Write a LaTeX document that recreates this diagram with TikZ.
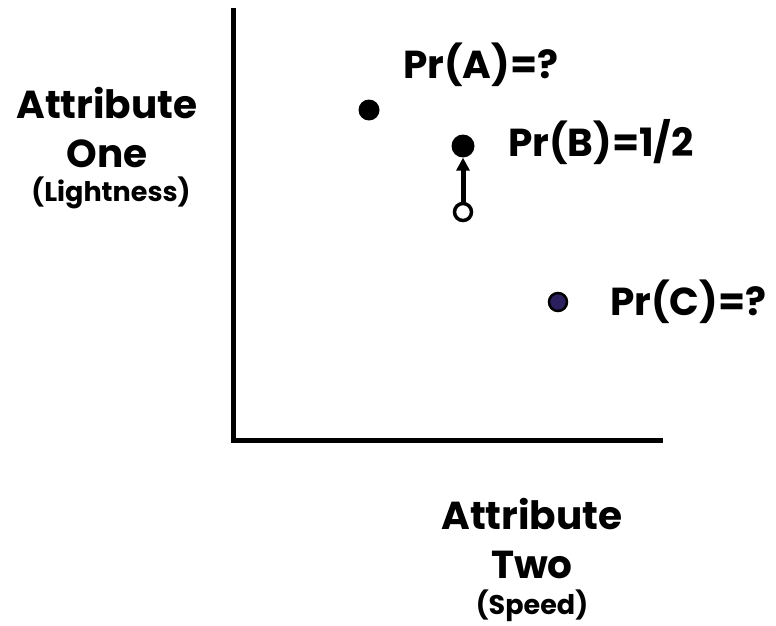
\documentclass[tikz,border=0pt]{standalone}
\usepackage{fontspec}
\setmainfont{Poppins}
\usetikzlibrary{arrows.meta,positioning}
\definecolor{ink}{HTML}{000000}
\definecolor{plum}{HTML}{2B1F5E}
\tikzset{axisline/.style={draw=ink,line width=5pt},
 fulldot/.style={circle,fill=ink,inner sep=0pt,minimum size=21pt},
 opendot/.style={circle,draw=ink,fill=white,line width=3.5pt,inner sep=0pt,minimum size=17pt},
 prlabel/.style={anchor=west,font=\fontsize{39}{48}\selectfont\bfseries,inner sep=0pt},
 axlabel/.style={align=center,font=\fontsize{39}{49}\selectfont\bfseries,inner sep=0pt},
 moveup/.style={-{Triangle[length=13pt,width=13pt]},draw=ink,line width=5pt}}
\begin{document}
\begin{tikzpicture}[x=1pt,y=-1pt]
\useasboundingbox (0,0) rectangle (776,626);
\coordinate (top) at (233,8);
\coordinate (origin) at (233,440);
\coordinate (right) at (663,440);
\draw[axisline] (top)--(origin)--(right);
\node[fulldot] (a) at (369,110) {};
\node[fulldot,minimum size=23pt] (b) at (463,146) {};
\node[opendot] (b0) at (463,212) {};
\node[fulldot,fill=plum,draw=ink,line width=2.5pt,minimum size=18pt] (c) at (558,302) {};
\draw[moveup] (b0)--(b);
\node[prlabel] (pa) at (403,65) {Pr(A)=?};
\node[prlabel] (pb) at (508,142) {Pr(B)=1/2};
\node[prlabel] (pc) at (610,302) {Pr(C)=?};
\node[axlabel] (yname) at (107,128) {Attribute\\One};
\node[axlabel,font=\fontsize{27}{32}\selectfont\bfseries] (yunit) at (111,193) {(Lightness)};
\node[axlabel] (xname) at (532,539) {Attribute\\Two};
\node[axlabel,font=\fontsize{27}{32}\selectfont\bfseries] (xunit) at (532,606) {(Speed)};
\end{tikzpicture}
\end{document}
